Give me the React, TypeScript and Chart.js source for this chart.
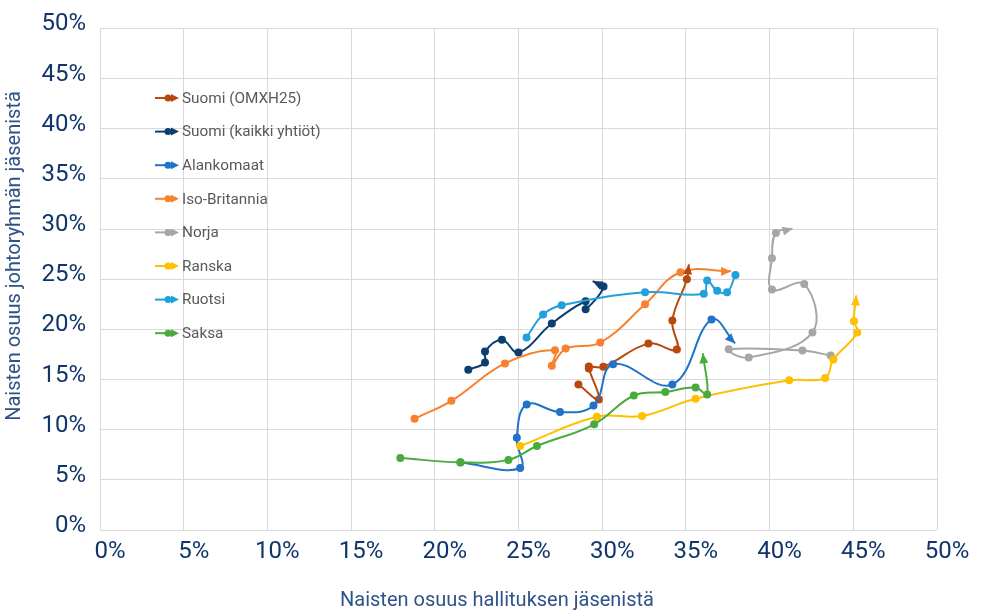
import React, { useEffect, useRef } from "react";
import { Chart, registerables } from "chart.js";

Chart.register(...registerables);

// ---------- data ----------
const seriesNames = [
  "Suomi (OMXH25)",
  "Suomi (kaikki yhtiöt)",
  "Alankomaat",
  "Iso-Britannia",
  "Norja",
  "Ranska",
  "Ruotsi",
  "Saksa",
];
const seriesColors = [
  "#b9480c",
  "#0c3e72",
  "#1f73c8",
  "#f7812f",
  "#a6a6a6",
  "#ffc000",
  "#22a0dc",
  "#49ab3b",
];
const seriesArrow = [true, true, true, true, true, true, false, true];

const omxX = [28.58, 29.8, 29.2, 29.2, 30.07, 32.76, 34.46, 34.19, 35.06, 35.18];
const omxY = [14.5, 13.0, 16.1, 16.3, 16.27, 18.58, 17.98, 20.88, 25.0, 26.48];

const kaikkiX = [22.0, 23.0, 23.0, 24.01, 25.0, 26.99, 29.01, 29.01, 30.08, 29.43];
const kaikkiY = [15.98, 16.7, 17.79, 18.97, 17.69, 20.58, 22.8, 22.0, 24.28, 24.8];

const alankoX = [21.53, 25.1, 24.9, 25.49, 27.48, 29.48, 30.65, 34.19, 36.53, 37.94];
const alankoY = [6.72, 6.18, 9.19, 12.52, 11.76, 12.4, 16.53, 14.5, 20.98, 18.6];

const britX = [18.79, 20.99, 24.19, 27.18, 26.99, 27.82, 29.88, 32.56, 34.67, 37.7];
const britY = [11.1, 12.88, 16.6, 17.92, 16.37, 18.08, 18.68, 22.5, 25.69, 25.79];

const norjaX = [43.65, 41.96, 37.56, 38.75, 42.56, 42.07, 40.14, 40.14, 40.38, 41.37];
const norjaY = [17.39, 17.89, 18.01, 17.19, 19.69, 24.51, 23.98, 27.1, 29.6, 30.04];

const ranskaX = [25.1, 29.68, 32.38, 35.58, 41.17, 43.32, 43.81, 45.24, 45.04, 45.18];
const ranskaY = [8.37, 11.29, 11.36, 13.09, 14.92, 15.15, 17.0, 19.69, 20.82, 23.39];

const ruotsiX = [25.48, 26.47, 27.58, 32.56, 36.07, 36.27, 36.87, 37.46, 37.96];
const ruotsiY = [19.2, 21.47, 22.4, 23.69, 23.55, 24.87, 23.84, 23.69, 25.42];

const saksaX = [17.94, 21.53, 24.4, 26.1, 29.52, 31.89, 33.77, 35.58, 36.27, 36.01];
const saksaY = [7.18, 6.75, 6.99, 8.37, 10.54, 13.41, 13.76, 14.2, 13.51, 17.62];

const seriesX = [omxX, kaikkiX, alankoX, britX, norjaX, ranskaX, ruotsiX, saksaX];
const seriesY = [omxY, kaikkiY, alankoY, britY, norjaY, ranskaY, ruotsiY, saksaY];

const xTitle = "Naisten osuus hallituksen jäsenistä";
const yTitle = "Naisten osuus johtoryhmän jäsenistä";

const FONT = "Roboto, 'Noto Sans', sans-serif";
const TICK_COLOR = "#11356a";
const TITLE_COLOR = "#2e5487";

function drawArrow(ctx: CanvasRenderingContext2D, fx: number, fy: number, tx: number, ty: number, color: string, len = 10, half = 4.5) {
  const ang = Math.atan2(ty - fy, tx - fx);
  ctx.save();
  ctx.fillStyle = color;
  ctx.beginPath();
  ctx.moveTo(tx, ty);
  ctx.lineTo(tx - len * Math.cos(ang) + half * Math.sin(ang), ty - len * Math.sin(ang) - half * Math.cos(ang));
  ctx.lineTo(tx - len * Math.cos(ang) - half * Math.sin(ang), ty - len * Math.sin(ang) + half * Math.cos(ang));
  ctx.closePath();
  ctx.fill();
  ctx.restore();
}

const arrowPlugin = {
  id: "arrowHeads",
  afterDatasetsDraw(chart: any) {
    const ctx = chart.ctx;
    chart.data.datasets.forEach((ds: any, i: number) => {
      if (!seriesArrow[i]) return;
      const meta = chart.getDatasetMeta(i);
      const pts = meta.data;
      const last = pts[pts.length - 1];
      const prev = pts[pts.length - 2];
      let fx = last.cp1x, fy = last.cp1y;
      if (fx === undefined || (Math.abs(fx - last.x) < 0.5 && Math.abs(fy - last.y) < 0.5)) {
        fx = prev.x; fy = prev.y;
      }
      drawArrow(ctx, fx, fy, last.x, last.y, ds.borderColor);
    });
  },
};

const decorPlugin = {
  id: "decor",
  afterDraw(chart: any) {
    const ctx = chart.ctx as CanvasRenderingContext2D;
    ctx.save();
    // legend
    const x0 = 155;
    const y0 = 98;
    const step = 33.6;
    ctx.font = `15.3px ${FONT}`;
    ctx.textBaseline = "middle";
    ctx.textAlign = "left";
    seriesNames.forEach((name, i) => {
      const y = y0 + i * step;
      const c = seriesColors[i];
      ctx.strokeStyle = c;
      ctx.lineWidth = 2;
      ctx.beginPath();
      ctx.moveTo(x0, y);
      ctx.lineTo(x0 + 20, y);
      ctx.stroke();
      ctx.fillStyle = c;
      ctx.beginPath();
      ctx.arc(x0 + 13, y, 3.5, 0, Math.PI * 2);
      ctx.fill();
      drawArrow(ctx, x0, y, x0 + 24, y, c, 8, 4);
      ctx.fillStyle = "#595959";
      ctx.fillText(name, x0 + 27, y + 1);
    });
    // axis titles
    ctx.fillStyle = TITLE_COLOR;
    ctx.font = `20px ${FONT}`;
    ctx.textAlign = "center";
    ctx.textBaseline = "middle";
    ctx.fillText(xTitle, 497, 601);
    ctx.translate(15, 256);
    ctx.rotate(-Math.PI / 2);
    ctx.fillText(yTitle, 0, 0);
    ctx.restore();
  },
};

export default function App() {
  const ref = useRef<HTMLCanvasElement | null>(null);
  useEffect(() => {
    document.body.style.margin = "0";
    const canvas = ref.current!;
    const datasets = seriesNames.map((name, i) => {
      const n = seriesX[i].length;
      return {
        label: name,
        data: seriesX[i].map((x, k) => ({ x, y: seriesY[i][k] })),
        borderColor: seriesColors[i],
        backgroundColor: seriesColors[i],
        borderWidth: 2,
        showLine: true,
        tension: 0.4,
        pointRadius: seriesX[i].map((_, k) => (k === n - 1 && seriesArrow[i] ? 0 : 4)),
        pointBorderWidth: 0,
        order: seriesNames.length - i,
      };
    });
    const chart = new Chart(canvas, {
      type: "scatter",
      data: { datasets },
      options: {
        animation: false,
        responsive: false,
        layout: { padding: { top: 24, right: 44, left: 0, bottom: 0 } },
        plugins: { legend: { display: false }, tooltip: { enabled: false } },
        scales: {
          x: {
            type: "linear",
            min: 0,
            max: 50,
            ticks: {
              stepSize: 5,
              callback: (v: any) => v + "%",
              color: TICK_COLOR,
              font: { family: FONT, size: 24 },
              padding: 8,
              labelOffset: 10,
              maxRotation: 0,
            },
            grid: { color: "#d9d9d9", drawTicks: false },
            border: { display: false },
            afterFit: (s: any) => { s.height = 81; },
          },
          y: {
            type: "linear",
            min: 0,
            max: 50,
            ticks: {
              stepSize: 5,
              callback: (v: any) => v + "%",
              color: TICK_COLOR,
              font: { family: FONT, size: 24 },
              padding: 14,
              labelOffset: -4,
            },
            grid: { color: "#d9d9d9", drawTicks: false },
            border: { display: false },
            afterFit: (s: any) => { s.width = 100; },
          },
        },
      },
      plugins: [arrowPlugin, decorPlugin],
    } as any);
    return () => chart.destroy();
  }, []);
  return (
    <div style={{ position: "fixed", left: 0, top: 0, width: 981, height: 611, background: "#fff" }}>
      <canvas ref={ref} width={981} height={611} style={{ width: 981, height: 611 }} />
    </div>
  );
}
